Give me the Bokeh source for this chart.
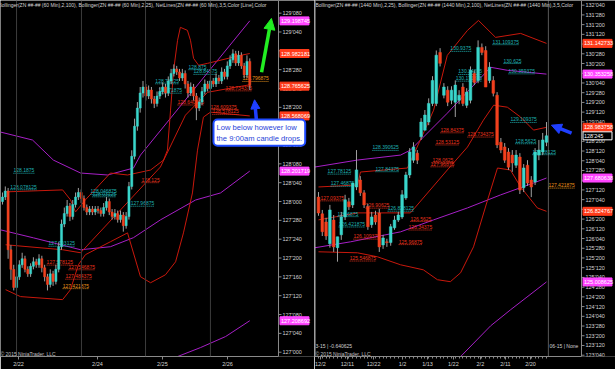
from bokeh.plotting import figure
from bokeh.layouts import row
from bokeh.models import Range1d, FixedTicker, Label, Span, Arrow, NormalHead
from bokeh.core.properties import value
from bokeh.embed import file_html
from bokeh.resources import INLINE

FONT = "Liberation Sans"

# ---------------- LEFT PANEL : ZN 60 min ----------------
L_open = [128.00, 128.03, 128.07, 127.68, 127.55, 127.43, 127.50, 127.58, 127.62, 127.55,
          127.52, 127.57, 127.60, 127.58, 127.62, 127.56, 127.50, 127.45, 127.52, 127.47,
          127.55, 127.70, 127.85, 127.92, 127.97, 127.90, 127.98, 128.03, 128.06, 128.02,
          127.96, 127.93, 127.95, 127.93, 127.95, 127.94, 127.92, 127.96, 128.00, 127.93,
          127.90, 127.92, 127.88, 127.91, 127.84, 127.90, 128.10, 128.30, 128.50, 128.62,
          128.72, 128.76, 128.70, 128.74, 128.68, 128.65, 128.70, 128.73, 128.76, 128.72,
          128.80, 128.85, 128.88, 128.86, 128.82, 128.85, 128.78, 128.72, 128.76, 128.70,
          128.62, 128.66, 128.73, 128.78, 128.75, 128.80, 128.78, 128.82, 128.80, 128.86,
          128.83, 128.90, 128.94, 128.98, 128.92, 128.97, 128.90, 128.84, 128.93]
L_high = [128.06, 128.10, 128.09, 127.71, 127.58, 127.53, 127.61, 127.66, 127.64, 127.57,
          127.59, 127.63, 127.62, 127.65, 127.64, 127.58, 127.52, 127.55, 127.54, 127.58,
          127.73, 127.88, 127.96, 128.01, 127.99, 128.01, 128.06, 128.09, 128.08, 128.04,
          127.98, 127.97, 127.97, 127.97, 127.97, 127.96, 127.99, 128.03, 128.02, 127.95,
          127.95, 127.94, 127.94, 127.93, 127.93, 128.13, 128.34, 128.55, 128.66, 128.76,
          128.80, 128.78, 128.77, 128.76, 128.70, 128.73, 128.76, 128.79, 128.78, 128.83,
          128.88, 128.91, 128.90, 128.88, 128.88, 128.87, 128.80, 128.79, 128.78, 128.72,
          128.69, 128.76, 128.81, 128.80, 128.83, 128.82, 128.85, 128.84, 128.89, 128.88,
          128.93, 128.97, 129.01, 129.00, 129.00, 128.99, 128.92, 128.97, 128.95]
L_low = [127.98, 128.01, 127.62, 127.48, 127.41, 127.41, 127.48, 127.56, 127.53, 127.50,
         127.50, 127.55, 127.56, 127.56, 127.53, 127.47, 127.41, 127.43, 127.44, 127.45,
         127.53, 127.68, 127.83, 127.90, 127.87, 127.88, 127.96, 128.01, 127.99, 127.94,
         127.91, 127.91, 127.91, 127.91, 127.92, 127.90, 127.90, 127.94, 127.91, 127.88,
         127.88, 127.86, 127.86, 127.80, 127.82, 127.88, 128.08, 128.28, 128.47, 128.59,
         128.69, 128.67, 128.68, 128.65, 128.62, 128.63, 128.68, 128.71, 128.69, 128.70,
         128.78, 128.83, 128.84, 128.80, 128.80, 128.75, 128.69, 128.70, 128.67, 128.54,
         128.60, 128.64, 128.71, 128.73, 128.73, 128.76, 128.76, 128.78, 128.78, 128.81,
         128.81, 128.88, 128.92, 128.90, 128.90, 128.88, 128.82, 128.82, 128.74]
L_close = [128.03, 128.07, 127.68, 127.55, 127.43, 127.50, 127.58, 127.62, 127.55, 127.52,
           127.57, 127.60, 127.58, 127.62, 127.56, 127.50, 127.45, 127.52, 127.47, 127.55,
           127.70, 127.85, 127.92, 127.97, 127.90, 127.98, 128.03, 128.06, 128.02, 127.96,
           127.93, 127.95, 127.93, 127.95, 127.94, 127.92, 127.96, 128.00, 127.93, 127.90,
           127.92, 127.88, 127.91, 127.84, 127.90, 128.10, 128.30, 128.50, 128.62, 128.72,
           128.76, 128.70, 128.74, 128.68, 128.65, 128.70, 128.73, 128.76, 128.72, 128.80,
           128.85, 128.88, 128.86, 128.82, 128.85, 128.78, 128.72, 128.76, 128.70, 128.62,
           128.66, 128.73, 128.78, 128.75, 128.80, 128.78, 128.82, 128.80, 128.86, 128.83,
           128.90, 128.94, 128.98, 128.92, 128.97, 128.90, 128.84, 128.93, 128.77]

# Bollinger (2,25) on 60 min : (bar index, price)
L_bb25_up_x = [1.1, 21.4, 24.2, 26.0, 29.5, 38.4, 44.5, 52.7, 57.3, 58.7, 59.8, 60.9, 62.3, 63.3, 65.8, 66.9, 68.0, 69.8, 73.0, 84.7, 88]
L_bb25_up_y = [128.064, 128.077, 128.011, 127.931, 128.011, 128.189, 128.176, 128.209, 128.275, 128.341, 128.606, 128.871, 129.070, 129.156, 129.136, 129.070, 128.950, 128.904, 128.917, 128.970, 128.982]
L_bb25_mid_x = [1.1, 21.4, 27.8, 56.2, 65.1, 73.0, 88]
L_bb25_mid_y = [127.713, 127.680, 127.660, 128.229, 128.573, 128.725, 128.775]
L_bb25_lo_x = [1.1, 6.4, 21.4, 24.2, 27.0, 29.5, 38.4, 44.5, 49.1, 52.7, 58.0, 61.6, 64.4, 67.6, 69.4, 71.5, 74.0, 88]
L_bb25_lo_y = [127.415, 127.369, 127.349, 127.415, 127.580, 127.647, 127.733, 127.792, 127.501, 127.461, 127.514, 127.600, 127.792, 128.057, 128.341, 128.560, 128.593, 128.568]
# Bollinger (2,100) on 60 min
L_bb100_up_x = [-0.7, 10.7, 18.1, 27.8, 37.4, 46.6, 49.1, 88]
L_bb100_up_y = [128.461, 128.408, 128.275, 128.189, 128.176, 128.222, 128.308, 129.199]
L_bb100_mid_x = [-0.7, 11.0, 27.8, 38.4, 46.6, 56.2, 68.7, 77.6, 88]
L_bb100_mid_y = [127.812, 127.759, 127.680, 127.700, 127.760, 127.878, 128.010, 128.057, 128.202]
L_bb100_lo_x = [61.6, 70.5, 79.4, 88]
L_bb100_lo_y = [126.966, 127.031, 127.104, 127.209]

L_sessions = [5.0, 28.1, 50.9, 74.0]
L_xticks = [5.7, 33.8, 56.9, 80.1]
L_xlabels = ["2/22", "2/24", "2/25", "2/26"]
L_yticks = [127.0, 127.125, 127.25, 127.375, 127.5, 127.625, 127.75, 127.875, 128.0, 128.125,
            128.25, 128.375, 128.5, 128.625, 128.75, 128.875, 129.0, 129.125, 129.25]
L_ylabels = ["127'000", "127'040", "127'080", "127'120", "127'160", "127'200", "127'240", "127'280",
             "128'000", "128'040", "128'080", "128'120", "128'160", "128'200", "128'240", "128'280",
             "129'000", "129'040", "129'080"]

L_lab_text = ["128.1875", "128.078125", "128.046875", "128.03125", "127.96875", "127.703125",
              "128.875", "128.84375", "128.78125", "128.71875",
              "128.125", "127.578125", "127.546875", "127.484375", "128.640625", "128.734375",
              "128.609375", "128.578125",
              "127.421875", "128.796875"]
L_lab_x = [3.9, 2.8, 31.3, 32.0, 45.6, 16.4, 66.2, 68.0, 54.4, 55.5,
           49.5, 15.7, 23.5, 22.4, 62.3, 79.4, 74.0, 74.7,
           21.4, 85.4]
L_lab_kind = ["c"] * 10 + ["r"] * 8 + ["o"] * 2

L_flag_text = ["129.198745", "128.982181", "128.765625", "128.568069", "128.201719", "127.208692"]
L_flag_val = [129.198745, 128.982181, 128.765625, 128.568069, 128.201719, 127.208692]
L_flag_kind = ["m", "r", "r", "r", "m", "m"]

# ---------------- RIGHT PANEL : ZN daily ----------------
R_open = [127.19, 126.76, 126.55, 125.99, 126.60, 125.89, 126.22, 126.68, 127.07, 126.99,
          127.45, 127.63, 127.30, 126.94, 126.48, 126.73, 126.78, 125.96, 126.04, 126.02,
          126.40, 126.60, 126.68, 127.17, 127.76, 128.14, 128.32, 128.74, 128.91, 129.12,
          129.60, 129.60, 130.91, 129.81, 129.94, 129.68, 129.63, 129.68, 130.02, 129.55,
          129.68, 130.37, 130.19, 131.04, 130.96, 130.19, 130.19, 129.81, 128.60, 128.48,
          128.35, 128.27, 128.01, 128.22, 127.43, 128.01, 127.63, 127.58, 128.27, 128.35,
          128.60]
R_high = [127.32, 126.86, 126.66, 126.99, 126.73, 126.17, 126.81, 127.25, 127.17, 127.55,
          128.40, 127.73, 127.37, 127.02, 126.81, 126.84, 126.89, 126.22, 126.12, 126.50,
          126.71, 126.81, 127.37, 127.84, 128.45, 128.60, 128.40, 129.22, 129.43, 129.73,
          130.30, 130.96, 131.02, 130.12, 130.04, 130.04, 130.19, 129.94, 130.12, 129.99,
          130.55, 130.45, 131.22, 131.14, 131.07, 130.66, 130.30, 129.89, 128.71, 128.58,
          128.45, 128.40, 128.40, 128.32, 128.04, 128.14, 127.73, 128.45, 128.66, 128.84,
          129.12]
R_low = [126.71, 126.19, 126.09, 125.89, 125.78, 125.53, 126.09, 126.60, 126.86, 126.91,
         127.37, 127.22, 126.91, 126.35, 126.40, 126.48, 125.78, 125.86, 125.91, 125.94,
         126.35, 126.55, 126.63, 127.12, 127.68, 128.07, 128.04, 128.66, 128.91, 129.04,
         129.53, 129.53, 130.55, 129.73, 129.53, 129.58, 129.25, 129.58, 129.53, 129.48,
         129.60, 130.07, 130.12, 130.84, 130.02, 130.12, 129.78, 128.45, 128.32, 128.07,
         127.89, 127.84, 127.94, 127.27, 127.32, 127.48, 127.19, 127.50, 128.14, 128.27,
         128.50]
R_close = [126.78, 126.30, 126.19, 126.86, 125.91, 126.17, 126.68, 127.12, 126.94, 127.55,
           127.89, 127.30, 126.99, 126.43, 126.68, 126.55, 125.91, 126.14, 126.02, 126.43,
           126.60, 126.73, 127.25, 127.76, 128.35, 128.48, 128.14, 129.12, 129.30, 129.60,
           130.19, 130.84, 130.63, 130.02, 129.63, 129.94, 130.07, 129.81, 129.60, 129.89,
           130.45, 130.14, 131.04, 130.91, 130.02, 130.53, 129.86, 128.53, 128.40, 128.14,
           127.96, 128.07, 128.27, 127.37, 127.94, 127.55, 127.45, 128.35, 128.40, 128.66,
           128.766]

R_bb25_up_x = [0, 10.26, 11.05, 23.4, 26.8, 30.3, 33.9, 39.2, 42.1, 46.6, 53.2, 60]
R_bb25_up_y = [127.451, 127.502, 127.835, 127.938, 128.656, 129.426, 130.836, 131.477, 131.733, 131.297, 131.399, 131.143]
R_bb25_mid_x = [0, 10.26, 24.2, 33.9, 39.2, 43.4, 46.1, 49.7, 53.2, 56.6, 60]
R_bb25_mid_y = [126.605, 126.784, 126.784, 127.887, 128.477, 129.169, 129.554, 129.502, 129.246, 128.913, 128.984]
R_bb25_lo_x = [0, 10.26, 15.5, 21.6, 27.6, 31.3, 34.7, 37.4, 40.8, 44.5, 47.1, 50.5, 53.2, 57.6, 60]
R_bb25_lo_y = [125.784, 125.758, 125.656, 125.45, 125.32, 125.066, 125.015, 125.245, 125.912, 127.117, 127.938, 127.887, 127.451, 126.912, 126.825]
R_bb100_up_x = [-1, 10.26, 21.6, 24.2, 33.9, 45.3, 49.7, 60]
R_bb100_up_y = [127.963, 128.143, 128.271, 128.399, 129.348, 130.528, 130.451, 130.353]
R_bb100_mid_x = [-1, 8.4, 21.6, 30.3, 39.2, 47.9, 56.6, 60]
R_bb100_mid_y = [125.887, 126.04, 126.297, 126.605, 126.912, 127.246, 127.553, 127.681]
R_bb100_lo_x = [37.4, 45.3, 50.5, 60]
R_bb100_lo_y = [123.09, 123.88, 124.29, 125.009]

R_xticks = [0.5, 7.6, 14.5, 22.1, 28.7, 35.5, 42.6, 49.2, 55.8]
R_xlabels = ["12/2", "12/11", "12/22", "1/2", "1/13", "1/22", "2/2", "2/11", "2/20"]
R_yticks = [123.125, 123.375, 123.625, 123.875, 124.125, 124.375, 124.625, 124.875,
            125.125, 125.375, 125.625, 125.875, 126.125, 126.375, 126.625, 126.875,
            127.125, 127.375, 127.625, 127.875, 128.125, 128.375, 128.625, 128.875,
            129.125, 129.375, 129.625, 129.875, 130.125, 130.375, 130.625, 130.875,
            131.125, 131.375, 131.625, 131.875, 132.125]
R_ylabels = ["123'040", "123'120", "123'200", "123'280", "124'040", "124'120", "124'200", "124'280",
             "125'040", "125'120", "125'200", "125'280", "126'040", "126'120", "126'200", "126'280",
             "127'040", "127'120", "127'200", "127'280", "128'040", "128'120", "128'200", "128'280",
             "129'040", "129'120", "129'200", "129'280", "130'040", "130'120", "130'200", "130'280",
             "131'040", "131'120", "131'200", "131'280", "132'040"]

R_lab_text = ["130.9375", "131.109375", "130.625", "130.359375", "130.34375", "130.171875",
              "129.109375", "128.5625", "128.390625", "127.84375", "127.78125", "127.46875",
              "126.828125", "126.6875", "126.421875", "128.28125",
              "128.84375", "128.53125", "128.734375", "128.0625", "127.96875", "127.09375",
              "126.90625", "126.5625", "126.34375", "126.109375", "125.96875", "125.546875",
              "127.421875"]
R_lab_x = [34.7, 45.8, 48.7, 50.0, 36.8, 36.1, 50.5, 51.8, 14.2, 15.0, 2.4, 3.2,
           18.2, 5.0, 5.3, 56.3,
           32.1, 30.8, 39.2, 30.0, 29.5, 0.5, 12.4, 24.2, 23.7, 9.2, 21.1, 8.2,
           60.5]
R_lab_kind = ["c"] * 16 + ["r"] * 12 + ["o"]

R_flag_text = ["131.142733", "130.353258", "128.983758", "128'245", "127.680638", "126.824767", "125.008625"]
R_flag_val = [131.142733, 130.353258, 128.983758, 128.765625, 127.680638, 126.824767, 125.008625]
R_flag_kind = ["r", "m", "r", "k", "m", "r", "m"]

# ---------------- styling ----------------
BG = "#000000"
UP = "#3ad6cc"
DN = "#f2401e"
WICK = "#a0a0a0"
BB25 = "#c8180c"
BB100 = "#a61fc6"
AXIS = "#8a8a8a"
TXT = "#d4d4d4"
LABCOL = {"c": "#1fb3b3", "r": "#e8321c", "o": "#e8901a"}
FLAGCOL = {"m": "#ff44ff", "r": "#ff3b1a", "k": "#000000"}

# pixel scale of each panel (pixels per bar) and position of its price axis
PPU_L, AX_L = 2.81, 98.22
PPU_R, AX_R = 3.8, 69.21


def make_fig(width, xr, yr):
    p = figure(width=width, height=369, x_range=xr, y_range=yr, output_backend="svg",
               toolbar_location=None, y_axis_location=None, min_border_left=0,
               min_border_right=0, min_border_top=0, min_border_bottom=12,
               background_fill_color=BG, border_fill_color=BG, outline_line_color=None)
    p.xgrid.visible = False
    p.ygrid.visible = False
    ax = p.xaxis[0]
    ax.axis_line_color = AXIS
    ax.major_tick_line_color = AXIS
    ax.minor_tick_line_color = AXIS
    ax.major_label_text_color = TXT
    ax.major_label_text_font = FONT
    ax.major_label_text_font_size = "5.5px"
    ax.major_tick_in = 0
    ax.major_tick_out = 3
    ax.minor_tick_in = 0
    ax.minor_tick_out = 0
    ax.major_label_standoff = 1
    return p


def price_axis(p, ax_x, ppu, ticks, labels, y0, y1):
    p.segment(x0=[ax_x], y0=[y0], x1=[ax_x], y1=[y1], line_color=AXIS, line_width=1)
    p.segment(x0=[ax_x] * len(ticks), y0=ticks, x1=[ax_x + 3 / ppu] * len(ticks), y1=ticks,
              line_color=AXIS, line_width=1)
    p.text(x=[ax_x + 4 / ppu] * len(ticks), y=ticks, text=labels, text_color=TXT,
           text_font=value(FONT), text_font_size="5.5px", text_baseline="middle", text_align="left")


def flags(p, ax_x, ppu, texts, vals, kinds):
    fill = [FLAGCOL[k] for k in kinds]
    edge = ["white" if k == "k" else FLAGCOL[k] for k in kinds]
    p.rect(x=[ax_x + 16 / ppu] * len(vals), y=vals, width=29, height=8, width_units="screen",
           height_units="screen", fill_color=fill, line_color=edge, line_width=1)
    p.text(x=[ax_x + 2.5 / ppu] * len(vals), y=vals, text=texts, text_color="white",
           text_font=value(FONT), text_font_size="5.5px", text_baseline="middle", text_align="left")


def candles(p, o, h, l, c, w):
    idx = list(range(len(c)))
    p.segment(x0=idx, y0=l, x1=idx, y1=h, line_color=WICK, line_width=1)
    up = [i for i in idx if c[i] >= o[i]]
    dn = [i for i in idx if c[i] < o[i]]
    p.vbar(x=up, width=w, top=[c[i] for i in up], bottom=[o[i] for i in up],
           fill_color=UP, line_color=UP, line_width=0.5)
    p.vbar(x=dn, width=w, top=[o[i] for i in dn], bottom=[c[i] for i in dn],
           fill_color=DN, line_color=DN, line_width=0.5)


def netlabels(p, texts, xs, kinds, ppu):
    for kind in ("c", "r", "o"):
        sel = [i for i in range(len(texts)) if kinds[i] == kind]
        tx = [texts[i] for i in sel]
        x0 = [xs[i] for i in sel]
        yv = [float(texts[i]) for i in sel]
        wid = [(sum(1.39 if ch == "." else 2.78 for ch in t)) / ppu for t in tx]
        x1 = [a + b for a, b in zip(x0, wid)]
        p.segment(x0=x0, y0=yv, x1=x1, y1=yv, line_color=LABCOL[kind], line_width=1, line_dash="1 1")
        p.text(x=x0, y=yv, text=tx, text_color=LABCOL[kind], text_font=value(FONT),
               text_font_size="5px", text_baseline="bottom", text_align="left", y_offset=-1)


def bands(p, sets):
    for xs, ys, col in sets:
        p.line(xs, ys, line_color=col, line_width=1)


def set_xaxis(p, xt, xl, bounds, minor=None):
    p.xaxis[0].ticker = FixedTicker(ticks=xt, minor_ticks=minor or [])
    p.xaxis[0].major_label_overrides = {t: s for t, s in zip(xt, xl)}
    p.xaxis[0].bounds = bounds


# ---------------- left figure ----------------
LY = (126.9715, 129.334)
p1 = make_fig(314, Range1d(-0.71, -0.71 + 314 / PPU_L), Range1d(*LY))
set_xaxis(p1, L_xticks, L_xlabels, (-0.71, AX_L))
for s in L_sessions:
    p1.add_layout(Span(location=s, dimension="height", line_color="#3c3c3c", line_width=1))
bands(p1, [(L_bb100_up_x, L_bb100_up_y, BB100), (L_bb100_mid_x, L_bb100_mid_y, BB100),
           (L_bb100_lo_x, L_bb100_lo_y, BB100), (L_bb25_up_x, L_bb25_up_y, BB25),
           (L_bb25_mid_x, L_bb25_mid_y, BB25), (L_bb25_lo_x, L_bb25_lo_y, BB25)])
netlabels(p1, L_lab_text, L_lab_x, L_lab_kind, PPU_L)
candles(p1, L_open, L_high, L_low, L_close, 0.75)
price_axis(p1, AX_L, PPU_L, L_yticks, L_ylabels, *LY)
flags(p1, AX_L, PPU_L, L_flag_text, L_flag_val, L_flag_kind)

p1.add_layout(Label(x=-2, y=352, x_units="screen", y_units="screen",
                    text="Bollinger(ZN ##-## (60 Min),2,100), Bollinger(ZN ##-## (60 Min),2,25), NetLines(ZN ##-## (60 Min),3,5,Color  [Line],Color",
                    text_font=FONT, text_font_size="5px", text_color=TXT, text_baseline="middle"))
p1.add_layout(Label(x=0, y=3, x_units="screen", y_units="screen", text="© 2015 NinjaTrader, LLC",
                    text_font=FONT, text_font_size="5px", text_color="#c0c0c0", text_baseline="middle"))

p1.add_layout(Arrow(end=NormalHead(size=11, fill_color="#22ee22", line_color="#22ee22"),
                    x_start=92.2, y_start=128.858, x_end=95.7, y_end=129.215,
                    line_color="#22ee22", line_width=3.5))
p1.add_layout(Arrow(end=NormalHead(size=9, fill_color="#1f3fff", line_color="#1f3fff"),
                    x_start=90.4, y_start=128.533, x_end=89.7, y_end=128.675,
                    line_color="#1f3fff", line_width=3.5))

p1.add_layout(Label(x=213, y=237, x_units="screen", y_units="screen",
                    text="Low below however low\nthe 9:00am candle drops.",
                    text_font=FONT, text_font_size="7.6px", text_color="#1f3fd8",
                    text_baseline="top", text_align="left", text_line_height=1.25,
                    background_fill_color="white", border_line_color="#1f4bff",
                    border_line_width=2, padding=3, border_radius=4))

# ---------------- right figure ----------------
RY = (123.0917, 132.2455)
p2 = make_fig(301, Range1d(-1.05, -1.05 + 301 / PPU_R), Range1d(*RY))
set_xaxis(p2, R_xticks, R_xlabels, (-1.05, AX_R), minor=list(range(0, 61)))
p2.xaxis[0].minor_tick_out = 2
p2.add_layout(Span(location=-0.95, dimension="height", line_color="#e0e0e0", line_width=1))
p2.add_layout(Span(location=60.5, dimension="height", line_color="#b0b0b0", line_width=1, line_dash="1 1"))
bands(p2, [(R_bb100_up_x, R_bb100_up_y, BB100), (R_bb100_mid_x, R_bb100_mid_y, BB100),
           (R_bb100_lo_x, R_bb100_lo_y, BB100), (R_bb25_up_x, R_bb25_up_y, BB25),
           (R_bb25_mid_x, R_bb25_mid_y, BB25), (R_bb25_lo_x, R_bb25_lo_y, BB25)])
netlabels(p2, R_lab_text, R_lab_x, R_lab_kind, PPU_R)
candles(p2, R_open, R_high, R_low, R_close, 0.7)
price_axis(p2, AX_R, PPU_R, R_yticks, R_ylabels, *RY)
flags(p2, AX_R, PPU_R, R_flag_text, R_flag_val, R_flag_kind)

p2.add_layout(Label(x=1, y=352, x_units="screen", y_units="screen",
                    text="Bollinger(ZN ##-## (1440 Min),2,25), Bollinger(ZN ##-## (1440 Min),2,100), NetLines(ZN ##-## (1440 Min),3,5,Color",
                    text_font=FONT, text_font_size="5px", text_color=TXT, text_baseline="middle"))
p2.add_layout(Label(x=1, y=3, x_units="screen", y_units="screen", text="© 2015 NinjaTrader, LLC",
                    text_font=FONT, text_font_size="5px", text_color="#c0c0c0", text_baseline="middle"))
p2.add_layout(Label(x=1, y=11, x_units="screen", y_units="screen", text="3-15 | -0.640625",
                    text_font=FONT, text_font_size="5px", text_color="#d0d0d0", text_baseline="middle"))
p2.add_layout(Label(x=235, y=11, x_units="screen", y_units="screen", text="06-15 | None",
                    text_font=FONT, text_font_size="5px", text_color="#d0d0d0", text_baseline="middle"))
p2.add_layout(Arrow(end=NormalHead(size=10, fill_color="#1f3fff", line_color="#1f3fff"),
                    x_start=66.6, y_start=128.835, x_end=61.3, y_end=129.04,
                    line_color="#1f3fff", line_width=3.5))

layout = row(p1, p2)
open("out.html", "w").write(file_html(layout, INLINE))
